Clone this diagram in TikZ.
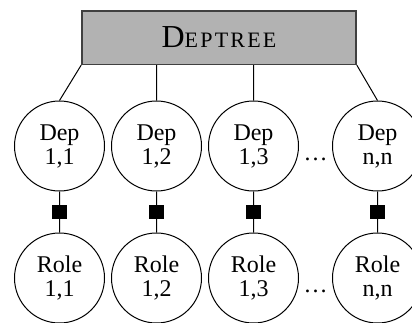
\documentclass[tikz,border=0pt]{standalone}
\usepackage{fontspec}
\setmainfont{Liberation Serif}
\usetikzlibrary{positioning}

\begin{document}
\begin{tikzpicture}[x=0.5pt,y=-0.5pt,node distance=48.5pt,on grid,
    var/.style={circle,draw,line width=0.5pt,minimum size=45pt,inner sep=0pt,align=center,font=\fontsize{12}{12}\selectfont},
    factor/.style={rectangle,fill=black,minimum width=7.5pt,minimum height=7pt,inner sep=0pt},
    more/.style={yshift=-6.5pt,font=\fontsize{12}{12}\selectfont}]
  \useasboundingbox (0,0) rectangle (412,322);
  \node[rectangle,draw=black!75,fill=black!30,line width=0.8pt,minimum width=137pt,minimum height=26.8pt] (tree) at (219,37.5)
    {\fontsize{16}{18}\selectfont D\fontsize{11}{12}\selectfont\addfontfeature{LetterSpace=10}EPTREE};
  \node[var] (dep11) at (59.5,146) {Dep\\1,1};
  \node[var] (dep12) [right=of dep11] {Dep\\1,2};
  \node[var] (dep13) [right=of dep12] {Dep\\1,3};
  \node[var] (depnn) [right=62pt of dep13] {Dep\\n,n};
  \node[var] (role11) [below=66pt of dep11] {Role\\1,1};
  \node[var] (role12) [below=66pt of dep12] {Role\\1,2};
  \node[var] (role13) [below=66pt of dep13] {Role\\1,3};
  \node[var] (rolenn) [below=66pt of depnn] {Role\\n,n};
    \path[draw,line width=0.5pt]
    (tree.south west) -- (dep11.north)
    (dep12.north |- tree.south) -- (dep12.north)
    (dep13.north |- tree.south) -- (dep13.north)
    (tree.south east) -- (depnn.north)
    (dep11) -- node[factor] {} (role11)
    (dep12) -- node[factor] {} (role12)
    (dep13) -- node[factor] {} (role13)
    (depnn) -- node[factor] {} (rolenn);
    \path (dep13) -- node[more] {\dots} (depnn)
    (role13) -- node[more] {\dots} (rolenn);
\end{tikzpicture}
\end{document}
